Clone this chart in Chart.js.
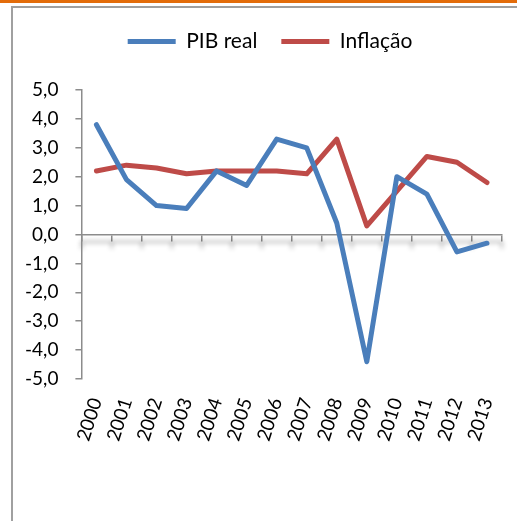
<!DOCTYPE html>
<html>
<head>
<meta charset="utf-8">
<script src="https://cdn.jsdelivr.net/npm/chart.js@4"></script>
<style>
  html, body { margin: 0; padding: 0; background: #fff; }
  body { width: 517px; height: 521px; position: relative; overflow: hidden; }
  .topbar { position: absolute; left: 0; top: 0; width: 517px; height: 3px; background: #e36c0a; }
  .frame { position: absolute; left: 11px; top: 6px; width: 540px; height: 540px;
           border-left: 2px solid #a0a0a0; border-top: 2px solid #a0a0a0; }
  #wrap { position: absolute; left: 0; top: 0; width: 517px; height: 521px; }
</style>
</head>
<body>
<div class="topbar"></div>
<div class="frame"></div>
<div id="wrap"><canvas id="chart"></canvas></div>
<script>
// ============================================
// PIB real vs Inflação (2000-2013)
// ============================================

const years = ['2000', '2001', '2002', '2003', '2004', '2005', '2006',
               '2007', '2008', '2009', '2010', '2011', '2012', '2013'];
const pibReal = [3.8, 1.9, 1.0, 0.9, 2.2, 1.7, 3.3, 3.0, 0.4, -4.4, 2.0, 1.4, -0.6, -0.3];
const inflacao = [2.2, 2.4, 2.3, 2.1, 2.2, 2.2, 2.2, 2.1, 3.3, 0.3, 1.5, 2.7, 2.5, 1.8];

const FONT = 'Lato, "DejaVu Sans", sans-serif';
const AXIS_GRAY = '#8c8c8c';

// push the plot down below the legend and nudge the legend right
const legendGap = {
    id: 'legendGap',
    beforeInit(chart) {
        const fit = chart.legend.fit;
        chart.legend.fit = function() {
            fit.bind(chart.legend)();
            this.height += 28;
        };
    },
    afterLayout(chart) {
        const legend = chart.legend;
        legend.left += 15;
        legend.right += 15;
    }
};

// soft drop shadow under the zero axis line (like the Excel original)
const axisShadow = {
    id: 'axisShadow',
    afterLayout(chart) {
        const scale = chart.scales.x0;
        if (!scale || scale._shadowed) return;
        scale._shadowed = true;
        ['drawGrid', 'drawBorder'].forEach(fn => {
            const orig = scale[fn];
            scale[fn] = function(...args) {
                const c = this.ctx;
                c.save();
                c.shadowColor = 'rgba(0, 0, 0, 0.45)';
                c.shadowBlur = 5;
                c.shadowOffsetY = 7;
                orig.apply(this, args);
                c.restore();
            };
        });
    }
};

function formatTick(value) {
    return Number(value).toFixed(1).replace('.', ',');
}

document.addEventListener('DOMContentLoaded', function() {
    const ctx = document.getElementById('chart');
    new Chart(ctx, {
        type: 'line',
        data: {
            labels: years,
            datasets: [{
                label: 'PIB real',
                data: pibReal,
                borderColor: '#4a7ebb',
                backgroundColor: '#4a7ebb',
                borderWidth: 5,
                borderCapStyle: 'round',
                borderJoinStyle: 'round',
                pointRadius: 0,
                tension: 0,
                xAxisID: 'x'
            }, {
                label: 'Inflação',
                data: inflacao,
                borderColor: '#be4b48',
                backgroundColor: '#be4b48',
                borderWidth: 5,
                borderCapStyle: 'round',
                borderJoinStyle: 'round',
                pointRadius: 0,
                tension: 0,
                xAxisID: 'x'
            }]
        },
        options: {
            responsive: true,
            maintainAspectRatio: false,
            animation: false,
            layout: {
                padding: { top: 7, left: 8, right: 15, bottom: 61 }
            },
            plugins: {
                legend: {
                    position: 'top',
                    labels: {
                        usePointStyle: true,
                        pointStyle: 'line',
                        pointStyleWidth: 48,
                        padding: 24,
                        color: '#000',
                        font: { family: FONT, size: 21 }
                    }
                },
                tooltip: { enabled: false }
            },
            scales: {
                x: {
                    type: 'category',
                    position: 'bottom',
                    offset: true,
                    grid: { display: false, drawTicks: false },
                    border: { display: false },
                    ticks: {
                        color: '#000',
                        font: { family: FONT, size: 19 },
                        padding: 16,
                        minRotation: 72,
                        maxRotation: 72,
                        autoSkip: false
                    },
                    afterFit(scale) {
                        scale.paddingRight = 0;
                        scale.paddingLeft = 0;
                    }
                },
                x0: {
                    type: 'category',
                    position: { y: 0 },
                    offset: true,
                    grid: {
                        offset: true,
                        drawOnChartArea: false,
                        drawTicks: true,
                        tickLength: 6,
                        color: AXIS_GRAY,
                        lineWidth: 1.5
                    },
                    border: { display: true, color: AXIS_GRAY, width: 1.5 },
                    ticks: { display: false }
                },
                y: {
                    position: 'left',
                    min: -5,
                    max: 5,
                    grid: {
                        drawOnChartArea: false,
                        drawTicks: true,
                        tickLength: 6,
                        color: AXIS_GRAY,
                        lineWidth: 1.5
                    },
                    border: { display: true, color: AXIS_GRAY, width: 1.5 },
                    ticks: {
                        stepSize: 1,
                        padding: 17,
                        color: '#000',
                        font: { family: FONT, size: 19 },
                        callback: formatTick
                    }
                }
            }
        },
        plugins: [legendGap, axisShadow]
    });
});
</script>
</body>
</html>
